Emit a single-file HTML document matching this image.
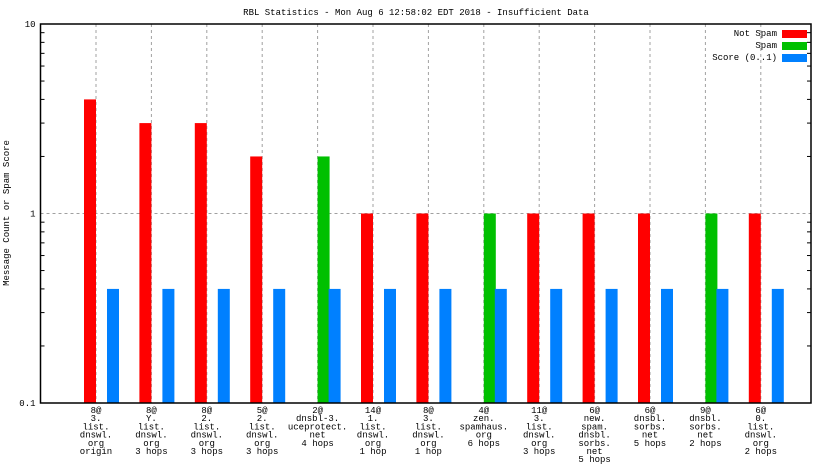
<!DOCTYPE html>
<html><head><meta charset="utf-8"><style>
body{margin:0;background:#fff}
svg text{font-family:"Liberation Mono",monospace;font-size:9px;fill:#000}
</style></head><body>
<svg id="c" width="832" height="468" xmlns="http://www.w3.org/2000/svg">
<text x="416" y="15" text-anchor="middle">RBL Statistics - Mon Aug  6 12:58:02 EDT 2018 - Insufficient Data</text>
<text transform="translate(9,213) rotate(-90)" text-anchor="middle">Message Count or Spam Score</text>
<g id="grid"></g><g id="bars"></g><g id="axes"></g><g id="labels"></g>
<g>
<text x="777" y="36" text-anchor="end">Not Spam</text>
<rect x="782" y="30" width="25" height="8" fill="#ff0000"/>
<text x="777" y="48" text-anchor="end">Spam</text>
<rect x="782" y="42" width="25" height="8" fill="#00c000"/>
<text x="777" y="60" text-anchor="end">Score (0..1)</text>
<rect x="782" y="54" width="25" height="8" fill="#0080ff"/>
</g>
</svg>
<script>
const categories=[
["8@","3.","list.","dnswl.","org","origin"],
["8@","Y.","list.","dnswl.","org","3 hops"],
["8@","2.","list.","dnswl.","org","3 hops"],
["5@","2.","list.","dnswl.","org","3 hops"],
["2@","dnsbl-3.","uceprotect.","net","4 hops"],
["14@","1.","list.","dnswl.","org","1 hop"],
["8@","3.","list.","dnswl.","org","1 hop"],
["4@","zen.","spamhaus.","org","6 hops"],
["11@","3.","list.","dnswl.","org","3 hops"],
["6@","new.","spam.","dnsbl.","sorbs.","net","5 hops"],
["6@","dnsbl.","sorbs.","net","5 hops"],
["9@","dnsbl.","sorbs.","net","2 hops"],
["6@","0.","list.","dnswl.","org","2 hops"]];
const notSpam=[4,3,3,2,0,1,1,0,1,1,1,0,1];
const spam=[0,0,0,0,2,0,0,1,0,0,0,1,0];
const score=[0.4,0.4,0.4,0.4,0.4,0.4,0.4,0.4,0.4,0.4,0.4,0.4,0.4];
const yTicks=[10,1,0.1];
const yTickLabels=["10","1","0.1"];

const NS="http://www.w3.org/2000/svg";
const L=40.5,R=811,T=24,B=403,step=55.4,x0=96;
const y=v=>B-(Math.log10(v)+1)*(B-T)/2;
const xc=i=>x0+step*i;
function mk(p,tag,a){const e=document.createElementNS(NS,tag);for(const k in a)e.setAttribute(k,a[k]);document.getElementById(p).appendChild(e);return e;}
for(let i=0;i<categories.length;i++){const g=mk('grid','line',{x1:xc(i),x2:xc(i),y1:T,y2:B,stroke:'#a0a0a0','stroke-dasharray':'3,3'});

}
const hg=mk('grid','line',{x1:L,x2:R,y1:y(1),y2:y(1),stroke:'#a0a0a0','stroke-dasharray':'3,3'});


function bar(v,xs,w,col,name){if(!v)return;const r=mk('bars','rect',{x:xs,y:y(v),width:w,height:B-y(v),fill:col});

}
for(let i=0;i<categories.length;i++){const c=xc(i);
bar(notSpam[i],c-12,12,'#ff0000','bar-not-spam');
bar(spam[i],c,12,'#00c000','bar-spam');
bar(score[i],c+11,12,'#0080ff','bar-score');}
const fr=mk('axes','rect',{x:L,y:T,width:R-L,height:B-T,fill:'none',stroke:'#000','stroke-width':1.5});


for(let d=0.1;d<10;d*=10){for(let k=2;k<=9;k++){const yy=y(d*k);mk('axes','line',{x1:L,x2:L+4,y1:yy,y2:yy,stroke:'#000'});mk('axes','line',{x1:R,x2:R-4,y1:yy,y2:yy,stroke:'#000'});}}
yTicks.forEach((v,i)=>{const t=mk('labels','text',{x:L-5,y:y(v)+3,'text-anchor':'end'});t.textContent=yTickLabels[i];

});
categories.forEach((lines,i)=>{const t=mk('labels','text',{x:xc(i),y:413,'text-anchor':'middle'});


lines.forEach((s,j)=>{const ts=document.createElementNS(NS,'tspan');ts.setAttribute('x',xc(i));ts.setAttribute('y',413+j*8.2);ts.textContent=s;t.appendChild(ts);});});
</script>
</body></html>
